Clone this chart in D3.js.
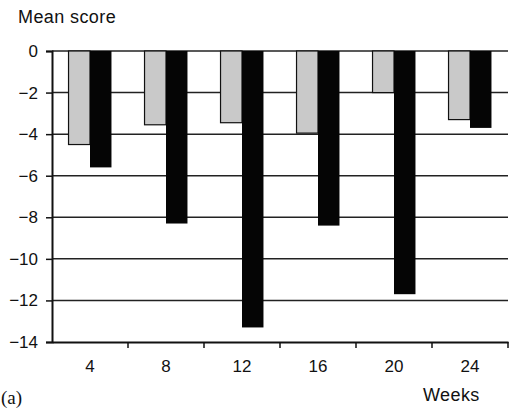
<!DOCTYPE html>
<html><head><meta charset="utf-8">
<script src="https://cdn.jsdelivr.net/npm/d3@7"></script>
<style>body{margin:0;background:#fff}svg{display:block}text{font-family:"Liberation Sans",Arial,sans-serif;fill:#111}</style>
</head><body>
<svg id="c" width="509" height="408"></svg>
<script>
const weeks = ["4","8","12","16","20","24"];
const seriesGray = [-4.5,-3.55,-3.45,-3.95,-2.0,-3.3];
const seriesBlack = [-5.6,-8.3,-13.3,-8.4,-11.7,-3.7];
const yTicks = [0,-2,-4,-6,-8,-10,-12,-14];

const svg = d3.select("#c");
const L=52, R=508, T=51, B=342;
const x = d3.scaleBand().domain(weeks).range([L,R]).paddingInner(0).paddingOuter(0);
const y = d3.scaleLinear().domain([0,-14]).range([T,B]);
const inner = d3.scaleBand().domain(["g","b"]).range([0,x.bandwidth()]).paddingInner(0).paddingOuter(0.77);

// gridlines
svg.append("g").selectAll("line").data(yTicks.slice(0,-1)).join("line")
  .attr("x1",L).attr("x2",R).attr("y1",d=>y(d)).attr("y2",d=>y(d))
  .attr("stroke","#222").attr("stroke-width",1.5);

const data = weeks.map((w,i)=>({w,g:seriesGray[i],b:seriesBlack[i]}));
const grp = svg.append("g").selectAll("g").data(data).join("g").attr("transform",d=>`translate(${x(d.w)},0)`);
grp.append("rect").attr("x",inner("g")).attr("width",inner.bandwidth())
  .attr("y",y(0)).attr("height",d=>y(d.g)-y(0)).attr("fill","#c9c9c9").attr("stroke","#111").attr("stroke-width",1.2);
grp.append("rect").attr("x",inner("b")).attr("width",inner.bandwidth())
  .attr("y",y(0)).attr("height",d=>y(d.b)-y(0)).attr("fill","#050505");

// y axis
const ya = svg.append("g").attr("transform",`translate(${L},0)`)
  .call(d3.axisLeft(y).tickValues(yTicks).tickSize(6).tickPadding(8).tickFormat(d3.format("d")));
ya.select(".domain").attr("stroke","#111").attr("stroke-width",2);
ya.selectAll(".tick line").attr("stroke","#111").attr("stroke-width",1.5);
ya.selectAll("text").style("font-size","17px").attr("fill","#111");

// x axis
const xa = svg.append("g").attr("transform",`translate(0,${B})`)
  .call(d3.axisBottom(x).tickSize(0).tickPadding(18));
xa.select(".domain").attr("stroke","#111").attr("stroke-width",2);
xa.selectAll("text").style("font-size","17px").attr("fill","#111");
xa.append("g").selectAll("line").data(weeks).join("line")
  .attr("x1",d=>x(d)+x.bandwidth()).attr("x2",d=>x(d)+x.bandwidth())
  .attr("y1",0).attr("y2",6).attr("stroke","#111").attr("stroke-width",1.5);

svg.append("text").attr("x",18).attr("y",23).style("font-size","18px").style("letter-spacing","0.4px").text("Mean score");
svg.append("text").attr("x",423).attr("y",401).style("font-size","18px").style("letter-spacing","0.4px").text("Weeks");
svg.append("text").attr("x",1).attr("y",404).style("font-family","'Liberation Serif','Times New Roman',serif").style("font-size","19px").text("(a)");
</script>
</body></html>
